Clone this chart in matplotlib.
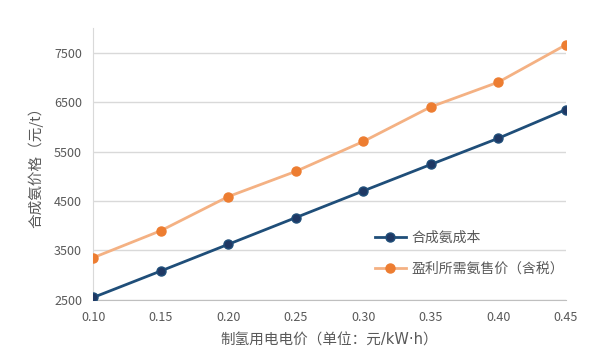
import matplotlib
matplotlib.use("Agg")
import matplotlib.pyplot as plt

plt.rcParams["font.family"] = ["Noto Sans CJK SC", "DejaVu Sans"]

# data
price = [0.10, 0.15, 0.20, 0.25, 0.30, 0.35, 0.40, 0.45]
cost = [2550, 3085, 3625, 4165, 4705, 5240, 5770, 6350]
sale_price = [3355, 3900, 4590, 5100, 5705, 6405, 6905, 7660]
x_ticks = ["0.10", "0.15", "0.20", "0.25", "0.30", "0.35", "0.40", "0.45"]
y_ticks = [2500, 3500, 4500, 5500, 6500, 7500]

text_color = "#595959"
grid_color = "#d9d9d9"

fig = plt.figure(figsize=(5.9, 3.64), dpi=100)
ax = fig.add_axes([0.158, 0.176, 0.801, 0.747])

ax.plot(price, cost, color="#1f4e79", linewidth=2, marker="o", markersize=6.5,
        markerfacecolor="#1f3864", markeredgecolor="#1f4e79", label="合成氨成本", zorder=3)
ax.plot(price, sale_price, color="#f4b183", linewidth=2, marker="o", markersize=6.5,
        markerfacecolor="#ed7d31", markeredgecolor="#ed7d31", label="盈利所需氨售价（含税）", zorder=3)

ax.set_xlim(0.10, 0.45)
ax.set_ylim(2500, 8000)
ax.set_xticks(price)
ax.set_xticklabels(x_ticks)
ax.set_yticks(y_ticks)
ax.tick_params(axis="both", length=0, labelsize=9, labelcolor=text_color, pad=8)
ax.grid(True, axis="y", color=grid_color, linewidth=1)
ax.set_axisbelow(True)

for side in ["top", "right"]:
    ax.spines[side].set_visible(False)
ax.spines["left"].set_color(grid_color)
ax.spines["bottom"].set_color("#bfbfbf")

ax.set_xlabel("制氢用电电价（单位：元/kW·h）", fontsize=10.5, color=text_color, labelpad=6,
              family=["DejaVu Sans", "Noto Sans CJK SC"])
ax.set_ylabel("合成氨价格（元/t）", fontsize=10.5, color=text_color, labelpad=8)

ax.legend(loc="upper left", bbox_to_anchor=(0.57, 0.3), frameon=False, fontsize=10,
          labelcolor=text_color, handlelength=2.2, handletextpad=0.4, labelspacing=1.2)

fig.savefig("out.png", dpi=100)
